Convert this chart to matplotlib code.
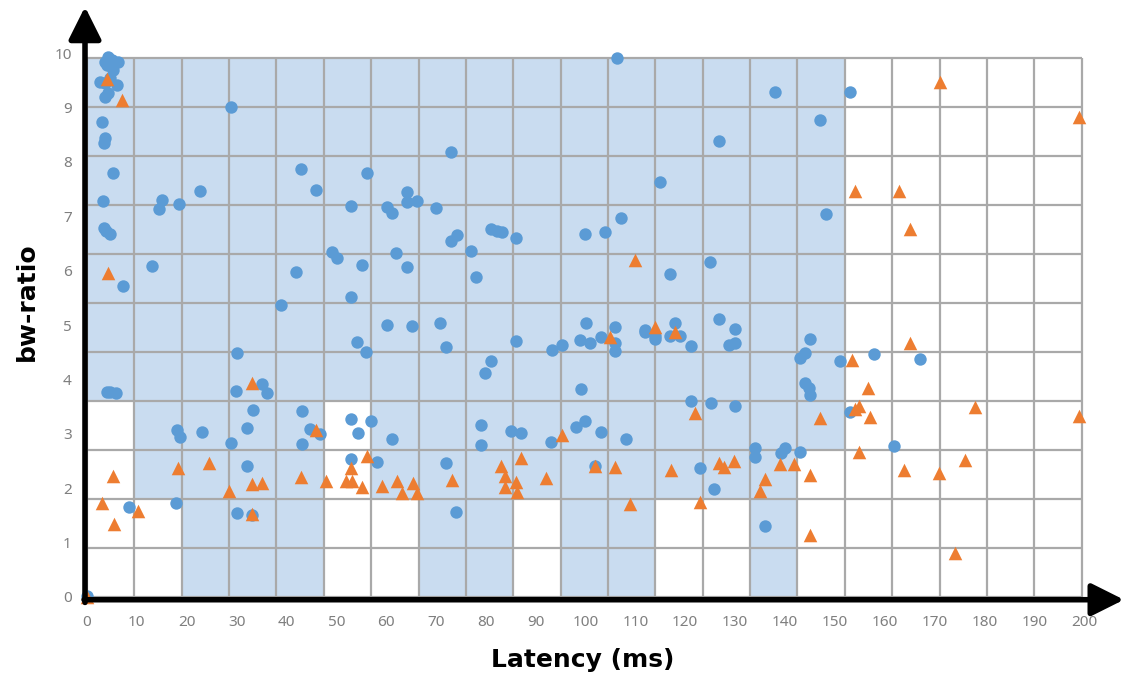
import numpy as np
import matplotlib
matplotlib.use("Agg")
import matplotlib.pyplot as plt

plt.rcParams['font.family'] = ['Noto Sans', 'DejaVu Sans']

# Blue series (circles): latency (ms), bw-ratio
blue_x = [4.2, 3.6, 5.0, 6.2, 5.2, 4.0, 2.6, 3.6, 6.0, 4.2, 3.6, 4.6, 3.0, 3.6, 3.4,
          5.2, 3.2, 3.4, 4.6, 3.8, 7.2, 13.0, 14.4, 15.0, 18.5, 22.7, 28.9, 42.9, 45.9,
          56.2, 53.0, 60.2, 61.2, 49.1, 50.2, 55.2, 41.9, 38.9, 53.0, 62.0, 60.2,
          106.3, 138.0, 153.1, 126.8, 147.0, 148.2, 114.9, 73.0, 64.2, 64.2, 66.2,
          70.0, 74.2, 73.0, 77.0, 81.0, 82.2, 83.2, 86.1, 99.9, 103.9, 107.1, 64.2,
          78.0, 116.9, 125.0, 65.2, 70.8, 100.1, 105.9, 118.0, 126.8, 130.0, 111.9,
          54.2, 56.0, 72.0, 81.0, 79.8, 86.1, 93.3, 95.3, 98.9, 100.9, 103.1, 105.9,
          105.9, 111.9, 113.9, 113.9, 116.9, 118.9, 121.2, 130.0, 128.8, 145.0, 144.0,
          143.0, 151.0, 157.9, 167.1, 99.1, 144.0, 144.8, 145.0, 121.2, 125.2, 130.0,
          153.1, 161.9, 140.0, 139.2, 134.0, 134.0, 143.0, 136.0, 123.0, 125.8, 101.9,
          98.1, 99.9, 103.1, 108.1, 93.1, 85.1, 87.1, 79.0, 79.0, 72.0, 74.0, 61.2,
          53.0, 57.0, 54.4, 53.0, 58.2, 4.0, 4.6, 5.8, 30.1, 29.9, 35.1, 36.1, 33.3,
          32.1, 43.1, 46.7, 44.7, 43.1, 28.9, 23.1, 18.1, 18.7, 32.1, 8.4, 17.9, 30.1,
          33.1, 0.0]
blue_y = [9.93, 9.83, 9.87, 9.83, 9.68, 9.78, 9.47, 9.45, 9.41, 9.26, 9.19, 9.54, 8.73,
          8.44, 8.35, 7.79, 7.28, 6.78, 6.67, 6.73, 5.72, 6.09, 7.13, 7.30, 7.22, 7.46,
          9.01, 7.87, 7.48, 7.79, 7.19, 7.17, 7.06, 6.34, 6.23, 6.10, 5.97, 5.37, 5.51,
          6.32, 5.00, 9.91, 9.28, 9.28, 8.38, 8.77, 7.04, 7.63, 8.18, 7.44, 7.26, 7.28,
          7.15, 6.65, 6.54, 6.36, 6.76, 6.73, 6.71, 6.60, 6.67, 6.71, 6.97, 6.07, 5.88,
          5.94, 6.16, 4.98, 5.04, 5.04, 4.96, 5.04, 5.11, 4.93, 4.91, 4.69, 4.50, 4.60,
          4.34, 4.12, 4.71, 4.54, 4.63, 4.72, 4.67, 4.78, 4.67, 4.52, 4.87, 4.80, 4.74,
          4.80, 4.80, 4.61, 4.67, 4.63, 4.74, 4.49, 4.39, 4.34, 4.47, 4.37, 3.82, 3.93,
          3.84, 3.71, 3.60, 3.57, 3.51, 3.40, 2.78, 2.74, 2.65, 2.74, 2.57, 2.67, 1.31,
          2.37, 1.99, 2.41, 3.12, 3.24, 3.03, 2.90, 2.85, 3.05, 3.01, 3.16, 2.79, 2.46,
          1.56, 2.90, 3.27, 3.24, 3.01, 2.54, 2.48, 3.77, 3.77, 3.75, 4.48, 3.79, 3.92,
          3.75, 3.44, 3.11, 3.42, 3.00, 3.09, 2.81, 2.83, 3.03, 3.07, 2.94, 2.41, 1.65,
          1.73, 1.54, 1.51, 0.02]

# Orange series (triangles)
orange_x = [4.0, 7.0, 4.2, 109.9, 171.1, 199.0, 154.1, 162.9, 165.1, 104.9, 113.9,
            118.0, 153.5, 156.7, 165.1, 157.1, 154.9, 154.1, 178.1, 199.0, 147.0, 154.9,
            176.1, 163.9, 170.9, 139.0, 141.8, 145.0, 136.0, 135.0, 145.0, 174.1, 122.0,
            95.3, 101.9, 105.9, 117.1, 126.8, 127.8, 129.8, 108.9, 123.0, 83.0, 83.8,
            87.1, 83.8, 86.1, 86.3, 92.1, 73.2, 56.2, 53.0, 47.9, 52.0, 53.2, 55.2, 59.1,
            62.2, 63.2, 65.4, 66.2, 33.1, 45.9, 5.2, 18.3, 24.5, 42.9, 28.5, 33.1, 35.1,
            3.0, 10.2, 5.4, 33.1, 0.0]
orange_y = [9.52, 9.14, 5.95, 6.20, 9.47, 8.83, 7.46, 7.46, 6.77, 4.78, 4.96, 4.87,
            4.36, 3.84, 4.67, 3.31, 3.51, 3.46, 3.49, 3.33, 3.29, 2.67, 2.52, 2.33, 2.28,
            2.44, 2.44, 2.24, 2.17, 1.95, 1.14, 0.81, 3.38, 2.98, 2.41, 2.39, 2.33, 2.46,
            2.39, 2.50, 1.71, 1.75, 2.41, 2.22, 2.55, 2.02, 2.11, 1.93, 2.19, 2.15, 2.59,
            2.37, 2.13, 2.13, 2.13, 2.02, 2.04, 2.13, 1.91, 2.10, 1.91, 3.93, 3.07, 2.22,
            2.37, 2.46, 2.21, 1.95, 2.08, 2.10, 1.73, 1.58, 1.34, 1.53, 0.00]

# Overlay grid: 21 columns of 9.5 ms, 11 rows of 0.9
cell_w = 9.5
cell_h = 0.9
n_cols = 21
n_rows = 11
# lowest shaded row in each column (-1 = column not shaded)
shade_from = [4, 2, 0, 0, 0, 4, 2, 0, 0, 2, 0, 0, 2, 2, 0, 3, -1, -1, -1, -1, -1]

xticks = list(range(0, 201, 10))
yticks = list(range(0, 11))

fig = plt.figure(figsize=(11.26, 6.77), dpi=100)
ax = fig.add_axes([87 / 1126, 80 / 677, 1032 / 1126, 587.5 / 677])
ax.set_xlim(0, 207)
ax.set_ylim(0, 10.8)

for i, r in enumerate(shade_from):
    if r >= 0:
        ax.bar(i * cell_w, (n_rows - r) * cell_h, bottom=r * cell_h, width=cell_w,
               align='edge', color='#c9dcf0', linewidth=0, zorder=1)

grid_color = '#a9a9a9'
ax.vlines([i * cell_w for i in range(n_cols + 1)], 0, n_rows * cell_h,
          color=grid_color, lw=1.6, zorder=2)
ax.hlines([j * cell_h for j in range(n_rows + 1)], 0, n_cols * cell_w,
          color=grid_color, lw=1.6, zorder=2)

ax.scatter(blue_x, blue_y, s=80, marker='o', color='#5b9bd5', linewidths=0,
           zorder=3, clip_on=False)
ax.scatter(orange_x, orange_y, s=95, marker='^', color='#ed7d31', linewidths=0,
           zorder=4, clip_on=False)

for s in ax.spines.values():
    s.set_visible(False)

# thick arrow axes
ax.annotate('', xy=(208, -0.05), xytext=(-0.6, -0.05), xycoords='data',
            arrowprops=dict(arrowstyle='-|>,head_length=0.9,head_width=0.45',
                            lw=4, color='black', mutation_scale=22, shrinkA=0, shrinkB=0),
            annotation_clip=False, zorder=5)
ax.annotate('', xy=(-0.4, 10.85), xytext=(-0.4, -0.1), xycoords='data',
            arrowprops=dict(arrowstyle='-|>,head_length=0.9,head_width=0.45',
                            lw=4, color='black', mutation_scale=22, shrinkA=0, shrinkB=0),
            annotation_clip=False, zorder=5)

ax.set_xticks(xticks)
ax.set_yticks(yticks)
ax.tick_params(axis='both', length=0, labelsize=11, colors='#7f7f7f')
ax.tick_params(axis='x', pad=13)
ax.tick_params(axis='y', pad=11)

fig.text(583 / 1126, 1 - 660 / 677, 'Latency (ms)', ha='center', va='center',
         fontsize=18, fontweight='bold', family='DejaVu Sans')
fig.text(27 / 1126, 1 - 302 / 677, 'bw-ratio', ha='center', va='center',
         rotation=90, fontsize=18, fontweight='bold', family='DejaVu Sans')

fig.savefig('out.png', dpi=100)
